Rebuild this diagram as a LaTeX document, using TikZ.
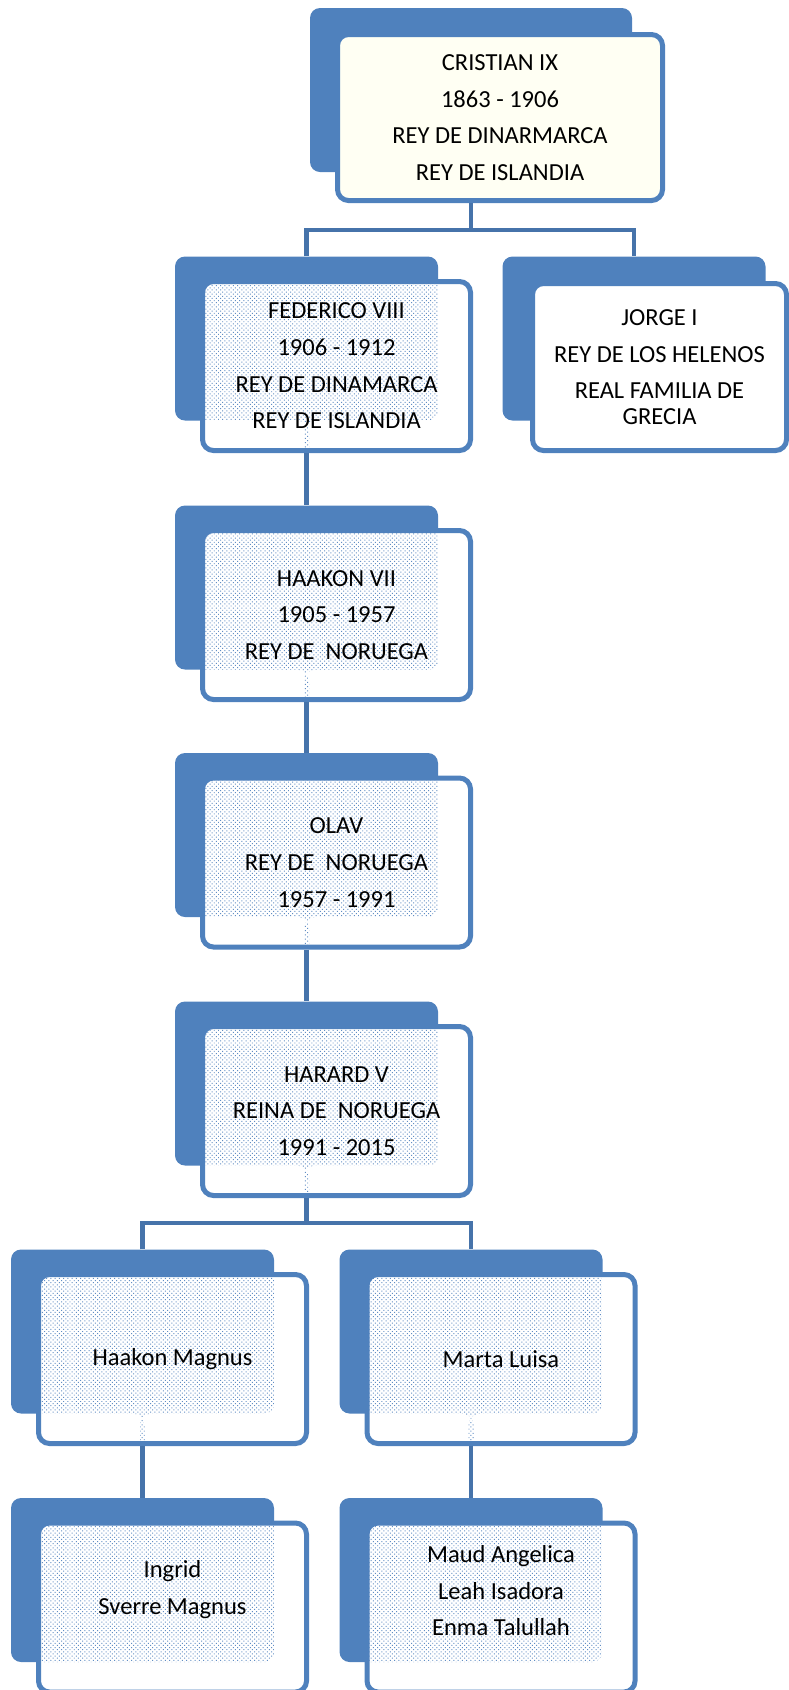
\documentclass[tikz,border=0pt]{standalone}
\usepackage{fontspec}
\setmainfont{Carlito}
\usetikzlibrary{patterns.meta}
\definecolor{royal}{RGB}{79,129,189}
\definecolor{steel}{RGB}{70,115,170}
\definecolor{ivory}{RGB}{255,255,243}

\tikzset{
  back/.style={rectangle,rounded corners=10pt,fill=royal,inner sep=0pt,
    minimum width=263pt,minimum height=164pt},
  front/.style={rectangle,rounded corners=11pt,draw=royal,line width=5pt,fill=white,
    inner sep=0pt,minimum width=268pt,minimum height=169pt,align=center,
    font=\fontsize{24.5}{36.7}\selectfont},
  speckle/.style={pattern={Dots[angle=45,distance=3pt,radius=.7pt]},pattern color=royal!90},
  speckled/.style={front,path picture={
      \fill[speckle,rounded corners=10pt] (#1.south west) rectangle (#1.north east);}},
  speckledstub/.style={front,path picture={
      \fill[speckle,rounded corners=10pt] (#1.south west) rectangle (#1.north east);
      \fill[speckle] ([xshift=-2.5pt]#1.south) rectangle ([xshift=2.5pt,yshift=-40pt]#1.south);}},
  link/.style={draw=steel,line width=4.5pt}
}

\begin{document}
\begin{tikzpicture}[x=1pt,y=-1pt]
  \useasboundingbox (0,0) rectangle (789,1690);
  % generation 1
  \node[back,minimum width=322pt] (b1) at (471,90) {};
  \node[front,fill=ivory,minimum width=325pt,minimum height=166pt] (f1) at ([xshift=29pt,yshift=-27.5pt]b1)
    {CRISTIAN IX\\1863 - 1906\\REY DE DINARMARCA\\REY DE ISLANDIA};
  % generation 2
  \node[back] (b2) at (306.5,338.5) {};
  \node[speckledstub=b2] (f2) at ([xshift=30pt,yshift=-27.5pt]b2)
    {FEDERICO VIII\\1906 - 1912\\REY DE DINAMARCA\\REY DE ISLANDIA};
  \node[back] (b3) at (634,338.5) {};
  \node[front,minimum width=254pt,minimum height=167pt] (f3) at ([xshift=25.5pt,yshift=-28.5pt]b3)
    {JORGE I\\REY DE LOS HELENOS\\REAL FAMILIA DE\\[-11pt]GRECIA};
  % norway
  \node[back] (b4) at (306.5,587.5) {};
  \node[speckledstub=b4] (f4) at ([xshift=30pt,yshift=-27.5pt]b4)
    {HAAKON VII\\1905 - 1957\\REY DE\ \ NORUEGA};
  \node[back] (b5) at (306.5,835) {};
  \node[speckledstub=b5] (f5) at ([xshift=30pt,yshift=-27.5pt]b5)
    {OLAV\\REY DE\ \ NORUEGA\\1957 - 1991};
  \node[back] (b6) at (306.5,1083.5) {};
  \node[speckledstub=b6] (f6) at ([xshift=30pt,yshift=-27.5pt]b6)
    {HARARD V\\REINA DE\ \ NORUEGA\\1991 - 2015};
  \node[back] (b7) at (142.5,1331.5) {};
  \node[speckledstub=b7] (f7) at ([xshift=30pt,yshift=-27.5pt]b7) {Haakon Magnus};
  \node[back] (b8) at (471,1331.5) {};
  \node[speckledstub=b8] (f8) at ([xshift=30pt,yshift=-27.5pt]b8) {Marta Luisa};
  \node[back] (b9) at (142.5,1580) {};
  \node[speckled=b9] (f9) at ([xshift=30pt,yshift=-27.5pt]b9)
    {Ingrid\\Sverre Magnus\rule[-40pt]{0pt}{40pt}};
  \node[back] (b10) at (471,1580) {};
  \node[speckled=b10] (f10) at ([xshift=30pt,yshift=-27.5pt]b10)
    {Maud Angelica\\Leah Isadora\\Enma Talullah\rule[-34pt]{0pt}{34pt}};

  \draw[link] (b1.south |- f1.south) -- ++(0,27) coordinate (j1);
  \draw[link] (b2.north) |- (j1) -| (b3.north);
  \draw[link] (b2.south |- f2.south) -- (b4.north);
  \draw[link] (b4.south |- f4.south) -- (b5.north);
  \draw[link] (b5.south |- f5.south) -- (b6.north);
  \draw[link] (b6.south |- f6.south) -- ++(0,25) coordinate (j6);
  \draw[link] (b7.north) |- (j6) -| (b8.north);
  \draw[link] (b7.south |- f7.south) -- (b9.north);
  \draw[link] (b8.south |- f8.south) -- (b10.north);
\end{tikzpicture}
\end{document}
